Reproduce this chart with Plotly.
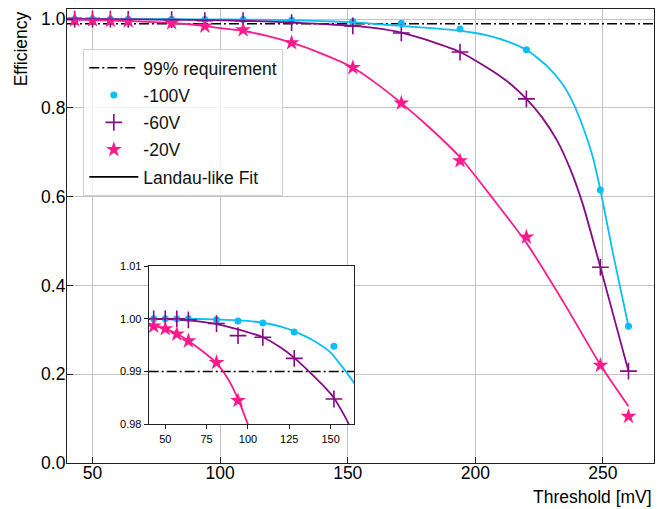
import plotly.graph_objects as go

# ---- data ----
thresholds = [43, 50, 57, 64, 81, 94, 109, 128, 152, 171, 194, 220, 249, 260]
eff_100V = [1.0000, 1.0000, 1.0000, 1.0000, 0.9998, 0.9996, 0.9992, 0.9975, 0.9948,
            0.991, 0.978, 0.931, 0.615, 0.308]
eff_60V = [1.0000, 1.0000, 1.0000, 0.9998, 0.9991, 0.9968, 0.9965, 0.9925, 0.9848,
           0.969, 0.926, 0.8205, 0.441, 0.207]
eff_20V = [0.9986, 0.9981, 0.9971, 0.9958, 0.9917, 0.9845, 0.976, 0.947, 0.891,
           0.811, 0.681, 0.509, 0.220, 0.105]

# Landau-like fit curves
fit_100V_x = [40, 60, 80, 100, 110, 120, 128, 140, 150, 158, 165, 171, 180, 194, 205,
              213, 220, 228, 234, 238, 242, 246, 249, 254, 260]
fit_100V_y = [1.0000, 1.0000, 0.9999, 0.9996, 0.9992, 0.9985, 0.9976, 0.9958, 0.9936,
              0.9905, 0.9875, 0.9848, 0.9810, 0.9740, 0.963, 0.949, 0.931, 0.895,
              0.855, 0.815, 0.760, 0.690, 0.615, 0.470, 0.308]
fit_60V_x = [40, 50, 60, 70, 81, 94, 109, 120, 128, 137, 145, 152, 161, 171, 180, 194,
             200, 207, 214, 220, 226, 232, 237, 242, 249, 260]
fit_60V_y = [1.0000, 0.99995, 0.9998, 0.9995, 0.9990, 0.9980, 0.9965, 0.9945, 0.9926,
             0.9900, 0.9875, 0.9850, 0.9800, 0.970, 0.955, 0.926, 0.907, 0.882, 0.853,
             0.8205, 0.780, 0.727, 0.665, 0.585, 0.441, 0.207]
fit_20V_x = [40, 43, 50, 57, 64, 72, 81, 88, 94, 100, 109, 118, 128, 140, 152, 161,
             171, 182, 194, 207, 220, 235, 249, 260]
fit_20V_y = [0.9991, 0.9987, 0.9981, 0.9972, 0.9958, 0.9940, 0.9916, 0.9886, 0.9848,
             0.9800, 0.9735, 0.963, 0.947, 0.922, 0.891, 0.856, 0.811, 0.756, 0.689,
             0.595, 0.496, 0.358, 0.221, 0.128]

requirement = 0.99
main_x_range = [40, 270]
main_y_range = [0, 1.023]
inset_x_range = [40, 164.3]
inset_y_range = [0.98, 1.01]

main_xticks = [50, 100, 150, 200, 250]
main_yticks = [0.0, 0.2, 0.4, 0.6, 0.8, 1.0]
inset_xticks = [50, 75, 100, 125, 150]
inset_yticks = [0.98, 0.99, 1.00, 1.01]

BLUE = "#0BBEF7"
PURPLE = "#850A85"
PINK = "#FF1A8C"
FONT = "Liberation Sans, Arial, sans-serif"
DASHDOT = "10px,3px,2px,3px"

fig = go.Figure()

# ---- main panel ----
fig.add_trace(go.Scatter(x=main_x_range, y=[requirement, requirement], mode="lines",
                         line=dict(color="black", width=1.5, dash=DASHDOT),
                         name="99% requirement", legendgroup="g1", hoverinfo="skip"))
fig.add_trace(go.Scatter(x=thresholds, y=eff_100V, mode="markers", name="-100V",
                         legendgroup="g2",
                         marker=dict(symbol="circle", size=7, color=BLUE)))
fig.add_trace(go.Scatter(x=thresholds, y=eff_60V, mode="markers", name="-60V",
                         legendgroup="g3",
                         marker=dict(symbol="cross-thin", size=12,
                                     line=dict(color=PURPLE, width=1.6), color=PURPLE)))
fig.add_trace(go.Scatter(x=thresholds, y=eff_20V, mode="markers", name="-20V",
                         legendgroup="g4",
                         marker=dict(symbol="star", size=12, color=PINK)))
fig.add_trace(go.Scatter(x=[None], y=[None], mode="lines", name="Landau-like Fit",
                         legendgroup="g5",
                         line=dict(color="black", width=1.8)))

for fx, fy, col in [(fit_100V_x, fit_100V_y, BLUE), (fit_60V_x, fit_60V_y, PURPLE),
                    (fit_20V_x, fit_20V_y, PINK)]:
    fig.add_trace(go.Scatter(x=fx, y=fy, mode="lines", showlegend=False,
                             line=dict(color=col, width=1.8, shape="spline", smoothing=0.6)))

# ---- inset panel ----
fig.add_trace(go.Scatter(x=inset_x_range, y=[requirement, requirement], mode="lines",
                         line=dict(color="black", width=1.5, dash=DASHDOT),
                         showlegend=False, xaxis="x2", yaxis="y2"))
for fx, fy, col in [(fit_100V_x, fit_100V_y, BLUE), (fit_60V_x, fit_60V_y, PURPLE),
                    (fit_20V_x, fit_20V_y, PINK)]:
    fig.add_trace(go.Scatter(x=fx, y=fy, mode="lines", showlegend=False,
                             line=dict(color=col, width=1.8, shape="spline", smoothing=0.6),
                             xaxis="x2", yaxis="y2"))
fig.add_trace(go.Scatter(x=thresholds, y=eff_100V, mode="markers", showlegend=False,
                         marker=dict(symbol="circle", size=7, color=BLUE),
                         xaxis="x2", yaxis="y2"))
fig.add_trace(go.Scatter(x=thresholds, y=eff_60V, mode="markers", showlegend=False,
                         marker=dict(symbol="cross-thin", size=12,
                                     line=dict(color=PURPLE, width=1.6), color=PURPLE),
                         xaxis="x2", yaxis="y2"))
fig.add_trace(go.Scatter(x=thresholds, y=eff_20V, mode="markers", showlegend=False,
                         marker=dict(symbol="star", size=12, color=PINK),
                         xaxis="x2", yaxis="y2"))

fig.update_layout(
    width=657, height=509,
    margin=dict(l=67, r=3, t=9, b=46),
    paper_bgcolor="white", plot_bgcolor="white",
    font=dict(family=FONT, size=17.5, color="black"),
    showlegend=True,
    legend=dict(x=0.0278, y=0.912, xanchor="left", yanchor="top",
                bgcolor="rgba(255,255,255,0.8)", bordercolor="#d0d0d0", borderwidth=1,
                font=dict(family=FONT, size=17.5, color="#111111"),
                tracegroupgap=1.5, itemwidth=49),
    xaxis=dict(range=main_x_range, tickvals=main_xticks, ticktext=[str(v) for v in main_xticks],
               showgrid=True, gridcolor="#c4c4c4", gridwidth=1,
               showline=True, linecolor="#222222", linewidth=1.2, mirror=True,
               ticks="inside", ticklen=6, tickcolor="#222222", zeroline=False,
               ticklabelstandoff=-6, tickfont=dict(size=17.5)),
    yaxis=dict(range=main_y_range, tickvals=main_yticks,
               ticktext=["%.1f" % v for v in main_yticks],
               showgrid=True, gridcolor="#c4c4c4", gridwidth=1,
               showline=True, linecolor="#222222", linewidth=1.2, mirror=True,
               ticks="inside", ticklen=6, tickcolor="#222222", zeroline=False,
               ticklabelstandoff=-3, tickfont=dict(size=17.5)),
    xaxis2=dict(domain=[0.1392, 0.4894], anchor="y2", range=inset_x_range,
                tickvals=inset_xticks, ticktext=[str(v) for v in inset_xticks],
                showgrid=False, showline=True, linecolor="#222222", linewidth=1,
                mirror=True, ticks="outside", ticklen=4, tickcolor="#222222",
                zeroline=False, tickfont=dict(size=11)),
    yaxis2=dict(domain=[0.0852, 0.4339], anchor="x2", range=inset_y_range,
                tickvals=inset_yticks, ticktext=["%.2f" % v for v in inset_yticks],
                showgrid=False, showline=True, linecolor="#222222", linewidth=1,
                mirror=True, ticks="outside", ticklen=4, tickcolor="#222222",
                zeroline=False, tickfont=dict(size=11)),
    annotations=[
        dict(text="Efficiency", textangle=-90, xref="paper", yref="paper",
             x=-0.0787, y=1.0, xanchor="center", yanchor="top", showarrow=False,
             font=dict(size=17.5)),
        dict(text="Threshold [mV]", xref="paper", yref="paper",
             x=1.0, y=-0.075, xanchor="right", yanchor="middle", showarrow=False,
             font=dict(size=17.5)),
    ],
)

fig.write_html("out.html", config={"displayModeBar": False},
               post_script="document.body.style.margin='0px';")
